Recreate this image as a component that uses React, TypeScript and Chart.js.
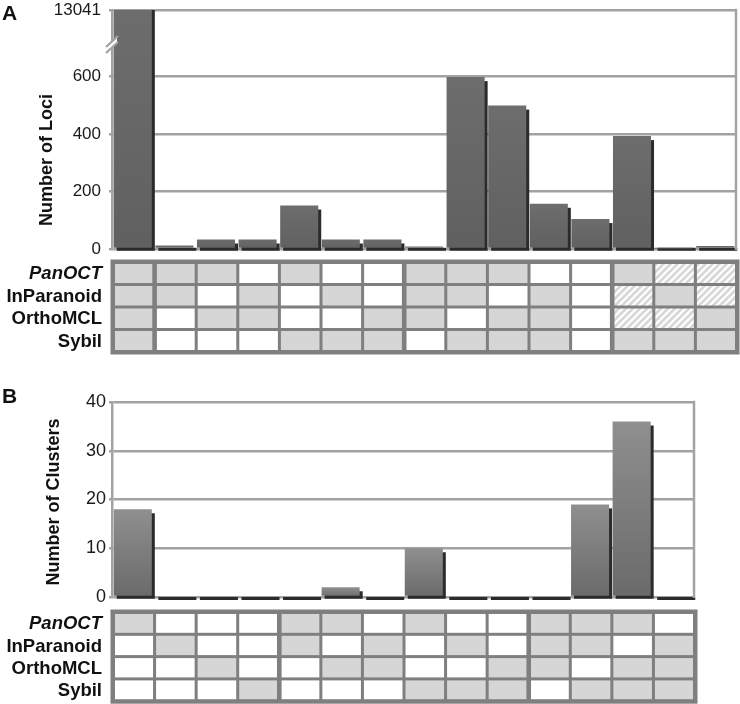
import React, { useEffect, useRef } from 'react';
import { Chart, registerables } from 'chart.js';

Chart.register(...registerables);

const FONT = '"Liberation Sans", Arial, Helvetica, sans-serif';

// ---- shared ----
const METHODS = ['PanOCT', 'InParanoid', 'OrthoMCL', 'Sybil'];
const ITALIC_METHODS = ['PanOCT'];

// ---- Panel A: Number of Loci ----
const LOCI_CATEGORIES = ['1', '2', '3', '4', '5', '6', '7', '8', '9', '10', '11', '12', '13', '14', '15'];
const LOCI_COUNTS = [13041, 12, 33, 33, 151, 33, 33, 9, 597, 498, 157, 104, 392, 2, 10];
const LOCI_TICKS = [0, 200, 400, 600];
const LOCI_AXIS_CEILING = 830; // axis break: top tick stands for the first bar's value
// cell states: 0 = absent (white), 1 = present (grey), 2 = hatched
const LOCI_PANOCT = [1, 1, 1, 0, 1, 0, 0, 1, 1, 1, 0, 0, 1, 2, 2];
const LOCI_INPARANOID = [1, 1, 0, 1, 0, 1, 0, 1, 1, 0, 1, 0, 2, 1, 2];
const LOCI_ORTHOMCL = [1, 0, 1, 1, 0, 0, 1, 1, 0, 1, 1, 0, 2, 2, 1];
const LOCI_SYBIL = [1, 0, 0, 0, 1, 1, 1, 0, 1, 1, 1, 0, 1, 1, 1];
const LOCI_GROUP_BREAKS = [1, 7, 12];

// ---- Panel B: Number of Clusters ----
const CLUSTER_CATEGORIES = ['1', '2', '3', '4', '5', '6', '7', '8', '9', '10', '11', '12', '13', '14'];
const CLUSTER_COUNTS = [18, 0, 0, 0, 0, 2, 0, 10, 0, 0, 0, 19, 36, 0];
const CLUSTER_TICKS = [0, 10, 20, 30, 40];
const CLUSTER_PANOCT = [1, 0, 0, 0, 1, 1, 0, 1, 0, 0, 1, 1, 1, 0];
const CLUSTER_INPARANOID = [0, 1, 0, 0, 1, 0, 1, 0, 1, 0, 1, 1, 0, 1];
const CLUSTER_ORTHOMCL = [0, 0, 1, 0, 0, 1, 1, 0, 0, 1, 1, 0, 1, 1];
const CLUSTER_SYBIL = [0, 0, 0, 1, 0, 0, 0, 1, 1, 1, 0, 1, 1, 1];
const CLUSTER_GROUP_BREAKS = [4, 10];

const GRID = '#a2a2a2';
const TABLE_LINE = '#7f7f7f';
const CELL_GREY = '#d6d6d6';

function makeHatch(ctx: CanvasRenderingContext2D) {
  const t = document.createElement('canvas');
  t.width = 7;
  t.height = 7;
  const c = t.getContext('2d')!;
  c.fillStyle = '#d8d8d8';
  c.fillRect(0, 0, 7, 7);
  c.strokeStyle = '#ffffff';
  c.lineWidth = 2.2;
  c.beginPath();
  c.moveTo(-1, 8); c.lineTo(8, -1);
  c.moveTo(-4, 4); c.lineTo(4, -4);
  c.moveTo(3, 11); c.lineTo(11, 3);
  c.stroke();
  return ctx.createPattern(t, 'repeat');
}

type Panel = {
  letter: string;
  letterY: number;
  title: string;
  titleX: number;
  titleY: number;
  categories: string[];
  counts: number[];
  ticks: number[];
  max: number;
  topLabel?: string;
  cells: number[][];
  breaks: number[];
  height: number;
  padding: { top: number; right: number; bottom: number };
  tableGap: number;
  rowPitch: number;
  tickPad: number;
  tickSize: number;
  colors: [string, string];
  axisBreak: boolean;
};

const PANELS: Panel[] = [
  {
    letter: 'A', letterY: 20, title: 'Number of Loci', titleX: 47, titleY: 160,
    categories: LOCI_CATEGORIES, counts: LOCI_COUNTS, ticks: [...LOCI_TICKS, LOCI_AXIS_CEILING],
    max: LOCI_AXIS_CEILING, topLabel: String(LOCI_COUNTS[0]),
    cells: [LOCI_PANOCT, LOCI_INPARANOID, LOCI_ORTHOMCL, LOCI_SYBIL], breaks: LOCI_GROUP_BREAKS,
    height: 365, padding: { top: 10, right: 4, bottom: 116 }, tableGap: 13, rowPitch: 22.5, tickPad: 8, tickSize: 17,
    colors: ['#6d6d6d', '#606060'], axisBreak: true,
  },
  {
    letter: 'B', letterY: 38, title: 'Number of Clusters', titleX: 54, titleY: 137,
    categories: CLUSTER_CATEGORIES, counts: CLUSTER_COUNTS, ticks: CLUSTER_TICKS,
    max: 40,
    cells: [CLUSTER_PANOCT, CLUSTER_INPARANOID, CLUSTER_ORTHOMCL, CLUSTER_SYBIL], breaks: CLUSTER_GROUP_BREAKS,
    height: 339, padding: { top: 37, right: 46, bottom: 107 }, tableGap: 15, rowPitch: 22.3, tickPad: 3, tickSize: 18,
    colors: ['#8f8f8f', '#6a6a6a'], axisBreak: false,
  },
];

function decorPlugin(p: Panel) {
  return {
    id: 'decor' + p.letter,
    beforeDatasetsDraw(chart: any) {
      const { ctx, chartArea: a } = chart;
      const meta = chart.getDatasetMeta(0);
      ctx.save();
      ctx.beginPath();
      ctx.rect(a.left, a.top, a.right - a.left + 8, a.bottom - a.top + 6);
      ctx.clip();
      ctx.fillStyle = '#2b2b2b';
      meta.data.forEach((bar: any) => {
        const q = bar.getProps(['x', 'y', 'width', 'base'], true);
        const left = q.x - q.width / 2;
        const top = Math.min(q.y + 4, q.base);
        ctx.fillRect(left + 3, top, q.width, q.base + 3 - top);
      });
      ctx.restore();
    },
    afterDatasetsDraw(chart: any) {
      const { ctx, chartArea: a } = chart;
      ctx.save();
      ctx.strokeStyle = GRID;
      ctx.lineWidth = 2.5;
      ctx.beginPath();
      ctx.moveTo(a.right, a.top - 1.25);
      ctx.lineTo(a.right, a.bottom + 1);
      ctx.stroke();
      ctx.restore();
    },
    afterDraw(chart: any) {
      const { ctx, chartArea: a, scales } = chart;
      ctx.save();
      // panel letter
      ctx.fillStyle = '#111';
      ctx.font = `bold 21px ${FONT}`;
      ctx.textAlign = 'left';
      ctx.textBaseline = 'alphabetic';
      ctx.fillText(p.letter, 2, p.letterY);
      // axis title
      ctx.save();
      ctx.translate(p.titleX, p.titleY);
      ctx.rotate(-Math.PI / 2);
      ctx.textAlign = 'center';
      ctx.textBaseline = 'middle';
      ctx.font = `bold 18px ${FONT}`;
      ctx.fillText(p.title, 0, 0);
      ctx.restore();
      // axis break mark
      if (p.axisBreak) {
        const x = a.left;
        const y0 = a.top + 25;
        ctx.fillStyle = '#ffffff';
        ctx.beginPath();
        ctx.moveTo(x - 5, y0 + 11);
        ctx.lineTo(x + 5, y0 + 2);
        ctx.lineTo(x + 5, y0 + 8);
        ctx.lineTo(x - 5, y0 + 17);
        ctx.closePath();
        ctx.fill();
        ctx.strokeStyle = GRID;
        ctx.lineWidth = 2.2;
        ctx.beginPath();
        ctx.moveTo(x - 6, y0 + 12);
        ctx.lineTo(x + 6, y0 + 1);
        ctx.moveTo(x - 6, y0 + 18);
        ctx.lineTo(x + 6, y0 + 7);
        ctx.stroke();
      }
      // presence table
      const xs = scales.x;
      const n = p.categories.length;
      const pitch = (a.right - a.left) / n;
      const dx = 1;
      const bounds: number[] = [];
      for (let k = 0; k < n; k++) bounds.push(xs.getPixelForValue(k) - pitch / 2 + dx);
      bounds.push(xs.getPixelForValue(n - 1) + pitch / 2 + dx);
      const T = a.bottom + p.tableGap;
      const rows = METHODS.length;
      const rb: number[] = [];
      for (let r = 0; r <= rows; r++) rb.push(T + r * p.rowPitch);
      const L = bounds[0];
      const R = bounds[n];
      const B = rb[rows];
      ctx.fillStyle = TABLE_LINE;
      ctx.fillRect(L - 2.5, T - 2.5, R - L + 5, B - T + 5);
      const halfX = (k: number) => (k === 0 || k === n ? 2 : p.breaks.includes(k) ? 2.3 : 1.5);
      const halfY = (r: number) => (r === 0 || r === rows ? 2 : 1.5);
      const hatch = makeHatch(ctx);
      for (let r = 0; r < rows; r++) {
        for (let c = 0; c < n; c++) {
          const v = p.cells[r][c];
          ctx.fillStyle = v === 1 ? CELL_GREY : v === 2 ? (hatch as any) : '#ffffff';
          const x0 = bounds[c] + halfX(c);
          const x1 = bounds[c + 1] - halfX(c + 1);
          const y0 = rb[r] + halfY(r);
          const y1 = rb[r + 1] - halfY(r + 1);
          ctx.fillRect(x0, y0, x1 - x0, y1 - y0);
        }
        // row label
        const name = METHODS[r];
        ctx.fillStyle = '#111';
        ctx.font = `${ITALIC_METHODS.includes(name) ? 'italic ' : ''}bold 18.5px ${FONT}`;
        ctx.textAlign = 'right';
        ctx.textBaseline = 'middle';
        ctx.fillText(name, a.left - 10, (rb[r] + rb[r + 1]) / 2 + 1);
      }
      ctx.restore();
    },
  };
}

function PanelChart({ p, top }: { p: Panel; top: number }) {
  const ref = useRef<HTMLCanvasElement>(null);
  useEffect(() => {
    const canvas = ref.current!;
    const chart = new Chart(canvas, {
      type: 'bar',
      data: {
        labels: p.categories,
        datasets: [
          {
            data: p.counts,
            clip: 0,
            barPercentage: 0.915,
            categoryPercentage: 1,
            borderWidth: 0,
            backgroundColor: (c: any) => {
              const ch = c.chart;
              const y = ch.scales && ch.scales.y;
              if (!y || !ch.chartArea || c.raw === undefined) return p.colors[1];
              const base = y.getPixelForValue(0);
              const topPx = Math.max(y.getPixelForValue(Math.min(c.raw, y.max)), ch.chartArea.top);
              if (base - topPx < 1) return p.colors[1];
              const g = ch.ctx.createLinearGradient(0, topPx, 0, base);
              g.addColorStop(0, p.colors[0]);
              g.addColorStop(1, p.colors[1]);
              return g;
            },
          } as any,
        ],
      },
      options: {
        animation: false,
        responsive: false,
        events: [],
        layout: { padding: { left: 0, top: p.padding.top, right: p.padding.right, bottom: p.padding.bottom } },
        plugins: { legend: { display: false }, tooltip: { enabled: false }, title: { display: false } },
        scales: {
          x: { type: 'category', display: false, offset: true, grid: { display: false } },
          y: {
            type: 'linear',
            min: 0,
            max: p.max,
            afterBuildTicks: (s: any) => {
              s.ticks = p.ticks.map((v) => ({ value: v }));
            },
            afterFit: (s: any) => {
              s.width = 112;
              s.paddingTop = 0;
              s.paddingBottom = 0;
            },
            ticks: {
              padding: p.tickPad,
              color: '#1a1a1a',
              font: { family: FONT, size: p.tickSize },
              callback: (v: any) => (v === p.max && p.topLabel ? p.topLabel : String(v)),
            },
            grid: { color: GRID, lineWidth: 2.5, drawTicks: true, tickLength: 3 },
            border: { color: GRID, width: 2.5 },
          },
        },
      } as any,
      plugins: [decorPlugin(p)],
    });
    return () => chart.destroy();
  }, [p]);
  return (
    <canvas
      ref={ref}
      width={740}
      height={p.height}
      style={{ position: 'absolute', left: 0, top, width: 740, height: p.height }}
    />
  );
}

export default function App() {
  return (
    <div style={{ position: 'absolute', left: 0, top: 0, width: 740, height: 704, background: '#fff', overflow: 'hidden' }}>
      <PanelChart p={PANELS[0]} top={0} />
      <PanelChart p={PANELS[1]} top={365} />
    </div>
  );
}
